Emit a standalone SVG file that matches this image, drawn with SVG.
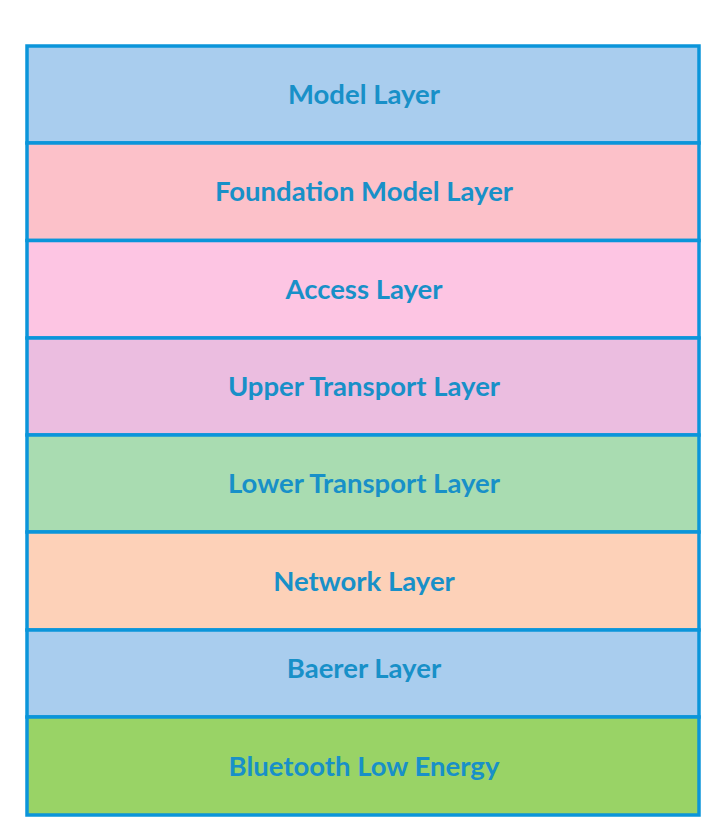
<svg xmlns="http://www.w3.org/2000/svg" width="717" height="839" viewBox="0 0 717 839">
<style>
.row{stroke:#0b95da;stroke-width:3.5}
.lbl{font-family:Lato,"Open Sans","Liberation Sans",sans-serif;font-weight:700;font-size:27.5px;fill:#1890c8;text-anchor:middle}
</style>
<rect width="717" height="839" fill="#ffffff"/>
<g id="model-layer"><rect class="row" x="27" y="46" width="672" height="97" fill="#a9cdee"/><text class="lbl" x="364" y="104">Model Layer</text></g>
<g id="foundation-model-layer"><rect class="row" x="27" y="143" width="672" height="97.5" fill="#fcc1c9"/><text class="lbl" x="364" y="201">Foundation Model Layer</text></g>
<g id="access-layer"><rect class="row" x="27" y="240.5" width="672" height="97.5" fill="#fdc5e3"/><text class="lbl" x="364" y="298.5">Access Layer</text></g>
<g id="upper-transport-layer"><rect class="row" x="27" y="338" width="672" height="97" fill="#ebbde0"/><text class="lbl" x="364" y="396">Upper Transport Layer</text></g>
<g id="lower-transport-layer"><rect class="row" x="27" y="435" width="672" height="97" fill="#a9dcb1"/><text class="lbl" x="364" y="493">Lower Transport Layer</text></g>
<g id="network-layer"><rect class="row" x="27" y="532" width="672" height="98" fill="#fdd1b8"/><text class="lbl" x="364" y="590.5">Network Layer</text></g>
<g id="baerer-layer"><rect class="row" x="27" y="630" width="672" height="87" fill="#a9cdee"/><text class="lbl" x="364" y="678">Baerer Layer</text></g>
<g id="bluetooth-low-energy"><rect class="row" x="27" y="717" width="672" height="98" fill="#99d366"/><text class="lbl" x="364" y="775.5">Bluetooth Low Energy</text></g>
<g id="connectors"></g>
</svg>
